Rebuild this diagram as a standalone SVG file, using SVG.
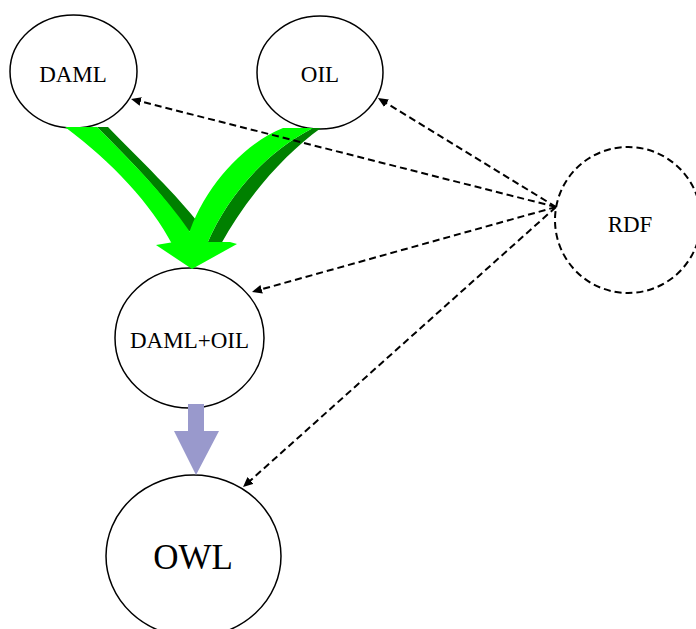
<svg xmlns="http://www.w3.org/2000/svg" width="696" height="629" viewBox="0 0 696 629">
<style>
.node{fill:#fff;stroke:#000;stroke-width:1.5}
.rdf{fill:#fff;stroke:#000;stroke-width:2;stroke-dasharray:7 4}
.lbl{font-family:"Liberation Serif","Times New Roman",serif;font-size:23px;fill:#000;text-anchor:middle}
.dash{fill:none;stroke:#000;stroke-width:2;stroke-dasharray:7 4;marker-end:url(#ah)}
.lg{fill:#00ff00}
.dg{fill:#008000}
.bl{fill:#9999cc}
</style>
<defs>
<marker id="ah" markerUnits="userSpaceOnUse" markerWidth="12" markerHeight="10" refX="2" refY="4.5" orient="auto">
<path d="M0,0 L10,4.5 L0,9 Z" fill="#000"/>
</marker>
</defs>
<g id="DAML"><ellipse class="node" cx="73.5" cy="71.5" rx="63.5" ry="56.5"/><text class="lbl" x="73" y="82">DAML</text></g>
<g id="OIL"><ellipse class="node" cx="320" cy="72.5" rx="63" ry="56.5"/><text class="lbl" x="320" y="82">OIL</text></g>
<g id="RDF"><ellipse class="rdf" cx="628" cy="220" rx="73" ry="73"/><text class="lbl" x="630" y="232">RDF</text></g>
<g id="DAML_OIL"><ellipse class="node" cx="189.5" cy="338" rx="74.5" ry="70"/><text class="lbl" x="189.5" y="348">DAML+OIL</text></g>
<g id="OWL"><ellipse class="node" cx="193.5" cy="556" rx="87.5" ry="81"/><text class="lbl" x="193" y="569" style="font-size:35px">OWL</text></g>
<g id="connectors">
<path class="dg" d="M97,127 L108,127 C140,160 177,195 200,225 L188,232 C165,195 130,160 97,127 Z"/>
<path class="lg" d="M65,127 L97,127 C130,160 165,195 190,232 L190,244 L172,244 C152,205 112,162 65,127 Z"/>
<path class="dg" d="M313,128 L321,128 C283,155 245,200 221,244 L207,244 C228,195 266,152 313,128 Z"/>
<path class="lg" d="M283,128 L313,128 C266,152 228,195 207,244 L186,244 C198,195 240,145 283,128 Z"/>
<path class="lg" d="M156,245 L174,242 L230,242 L237,244 L192,269 Z"/>
<path class="bl" d="M188,404 L204,404 L204,431 L219,431 L196,475 L174,431 L188,431 Z"/>
<path class="dash" d="M556,207 L138.8,101"/>
<path class="dash" d="M556,207 L384.8,102.2"/>
<path class="dash" d="M556,207 L259.7,289.8"/>
<path class="dash" d="M556,207 L249,481.7"/>
</g>
</svg>
